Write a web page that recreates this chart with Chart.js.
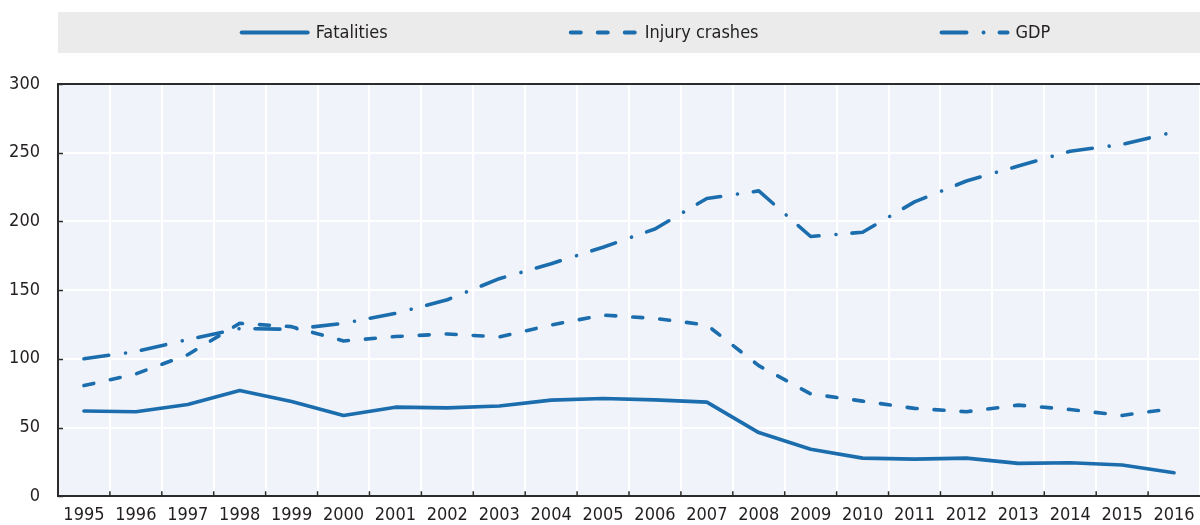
<!DOCTYPE html>
<html>
<head>
<meta charset="utf-8">
<title>Fatalities, injury crashes and GDP</title>
<script src="https://cdn.jsdelivr.net/npm/chart.js@4.4.1/dist/chart.umd.min.js"></script>
<style>
    html, body { margin: 0; padding: 0; background: #ffffff; }
    #wrap { position: relative; width: 1200px; height: 525px; }
</style>
</head>
<body>
<div id="wrap"><canvas id="roadChart" width="1200" height="525"></canvas></div>
<script>
// ========================================
// DATA
// ========================================

const years = ['1995', '1996', '1997', '1998', '1999', '2000', '2001', '2002', '2003', '2004', '2005',
    '2006', '2007', '2008', '2009', '2010', '2011', '2012', '2013', '2014', '2015', '2016'];

const fatalities = [62, 61.5, 66.7, 76.9, 69, 58.8, 64.8, 64.3, 65.6, 69.9, 71.1,
    70.1, 68.5, 46.3, 34.2, 27.7, 27, 27.7, 23.9, 24.3, 22.7, 17.1];

const injuryCrashes = [80.5, 89, 103, 125.8, 123.4, 113, 116.2, 118.1, 115.9, 124.6, 131.8,
    129.4, 124.6, 95, 74.5, 69.2, 63.9, 61.5, 66.3, 63.1, 58.8, 63.9];

const gdp = [100, 105.3, 114, 122, 121.5, 125.8, 133, 143, 158.3, 169.2, 181.2,
    194.5, 216.7, 222.2, 189, 192.1, 214.2, 229.4, 240.3, 251.1, 256, 265.1];

const yTicks = [0, 50, 100, 150, 200, 250, 300];

// ========================================
// STYLE
// ========================================

const FONT = "'Liberation Sans Narrow', 'Arial Narrow', 'DejaVu Sans Condensed', sans-serif";
const BLUE = '#1b6dad';
const TEXT = '#231f20';
const AXIS = '#2b2b2b';

const DASH = [10, 17];
const DASH_DOT = [25, 17, 0.01, 16];

// plot background, top border, inward tick marks and the legend strip
const oecdFrame = {
    id: 'oecdFrame',
    beforeDraw(chart) {
        const { ctx, chartArea: a } = chart;
        ctx.save();
        ctx.fillStyle = '#f0f4fa';
        ctx.fillRect(a.left, a.top, a.right - a.left, a.bottom - a.top);
        ctx.restore();
    },
    afterDatasetsDraw(chart) {
        const { ctx, chartArea: a, scales } = chart;
        ctx.save();
        ctx.strokeStyle = AXIS;
        ctx.lineWidth = 2;
        // top border
        ctx.beginPath();
        ctx.moveTo(a.left, a.top);
        ctx.lineTo(a.right, a.top);
        ctx.stroke();
        // tick marks pointing into the plot
        ctx.lineWidth = 1.5;
        ctx.beginPath();
        yTicks.forEach(v => {
            const y = Math.round(scales.y.getPixelForValue(v)) + 0.5;
            ctx.moveTo(a.left, y);
            ctx.lineTo(a.left + 5, y);
        });
        for (let i = 1; i < years.length; i++) {
            const x = (scales.x.getPixelForValue(i - 1) + scales.x.getPixelForValue(i)) / 2;
            ctx.moveTo(x, a.bottom);
            ctx.lineTo(x, a.bottom - 5);
        }
        ctx.stroke();
        ctx.restore();
    },
    afterDraw(chart) {
        const { ctx, chartArea: a } = chart;
        const top = 12, h = 41, lineW = 70, gap = 6, spacing = 181;
        ctx.save();
        ctx.fillStyle = '#ebebeb';
        ctx.fillRect(a.left, top, chart.width - a.left, h);

        ctx.font = '18px ' + FONT;
        ctx.textBaseline = 'middle';
        const items = chart.data.datasets.map(ds => ({
            label: ds.label,
            dash: ds.borderDash || [],
            w: lineW + gap + ctx.measureText(ds.label).width
        }));
        const total = items.reduce((s, it) => s + it.w, 0) + spacing * (items.length - 1);
        let x = (a.left + chart.width) / 2 + 16 - total / 2;
        const cy = top + h / 2;

        items.forEach(it => {
            ctx.strokeStyle = BLUE;
            ctx.lineWidth = 4;
            ctx.lineCap = 'round';
            ctx.setLineDash(it.dash);
            ctx.beginPath();
            ctx.moveTo(x + 2, cy);
            ctx.lineTo(x + lineW - 2, cy);
            ctx.stroke();
            ctx.setLineDash([]);
            ctx.fillStyle = TEXT;
            ctx.fillText(it.label, x + lineW + gap, cy + 1);
            x += it.w + spacing;
        });
        ctx.restore();
    }
};

function lineSet(label, data, dash) {
    return {
        label: label,
        data: data,
        borderColor: BLUE,
        backgroundColor: BLUE,
        borderWidth: 3.6,
        borderDash: dash,
        borderCapStyle: 'round',
        borderJoinStyle: 'round',
        tension: 0,
        pointRadius: 0,
        fill: false
    };
}

function initChart() {
    const ctx = document.getElementById('roadChart');

    new Chart(ctx, {
        type: 'line',
        data: {
            labels: years,
            datasets: [
                lineSet('Fatalities', fatalities, []),
                lineSet('Injury crashes', injuryCrashes, DASH),
                lineSet('GDP', gdp, DASH_DOT)
            ]
        },
        options: {
            responsive: false,
            animation: false,
            devicePixelRatio: 1,
            layout: { padding: { top: 84, right: 0, bottom: 0, left: 0 } },
            plugins: {
                legend: { display: false },
                tooltip: { enabled: false }
            },
            scales: {
                x: {
                    offset: true,
                    grid: {
                        offset: true,
                        color: '#ffffff',
                        lineWidth: 2,
                        drawTicks: false
                    },
                    border: { color: AXIS, width: 2 },
                    ticks: {
                        color: TEXT,
                        font: { family: FONT, size: 18 },
                        padding: 8,
                        autoSkip: false,
                        maxRotation: 0
                    },
                    afterFit: scale => {
                        scale.height = 26;
                        scale.paddingLeft = 0;
                        scale.paddingRight = 0;
                    }
                },
                y: {
                    min: 0,
                    max: 300,
                    afterBuildTicks: scale => { scale.ticks = yTicks.map(v => ({ value: v })); },
                    grid: {
                        color: '#ffffff',
                        lineWidth: 2,
                        drawTicks: false
                    },
                    border: { color: AXIS, width: 2 },
                    ticks: {
                        color: TEXT,
                        font: { family: FONT, size: 18 },
                        padding: 18
                    },
                    afterFit: scale => { scale.width = 58; }
                }
            }
        },
        plugins: [oecdFrame]
    });
}

initChart();
</script>
</body>
</html>
